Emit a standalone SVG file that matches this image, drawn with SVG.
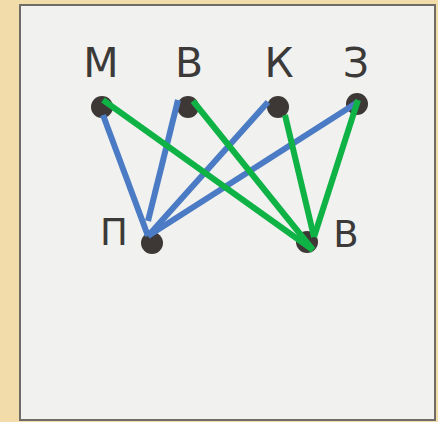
<svg xmlns="http://www.w3.org/2000/svg" width="438" height="422" viewBox="0 0 438 422">
<style>
.lbl{font-family:"DejaVu Sans","Noto Sans",sans-serif;fill:#3c3a38;text-anchor:middle}
.top{font-size:41px}
.bot{font-size:37px}
.dot{fill:#3d3836}
.b{stroke:#4a7bc4;stroke-width:6;stroke-linecap:butt;fill:none}
.g{stroke:#0fb245;stroke-width:6;stroke-linecap:butt;fill:none}
</style>
<rect x="0" y="0" width="438" height="422" fill="#f2dcaa"/>
<rect x="20" y="5" width="415" height="415" fill="#f1f1ef" stroke="#6e6c64" stroke-width="2"/>
<g id="node-M"><circle class="dot" cx="102" cy="107" r="11"/><text class="lbl top" x="101" y="77">М</text></g>
<g id="node-V1"><circle class="dot" cx="188" cy="107" r="11"/><text class="lbl top" x="189" y="77">В</text></g>
<g id="node-K"><circle class="dot" cx="278" cy="107" r="11"/><text class="lbl top" x="279" y="77">К</text></g>
<g id="node-Z"><circle class="dot" cx="357" cy="104" r="11"/><text class="lbl top" x="356" y="77">З</text></g>
<g id="node-P"><circle class="dot" cx="152" cy="243" r="11"/><text class="lbl bot" x="114" y="245">П</text></g>
<g id="node-V2"><circle class="dot" cx="307" cy="242" r="11"/><text class="lbl bot" x="346" y="247">В</text></g>
<g id="connectors">
<line class="b" x1="103" y1="115" x2="148" y2="236"/>
<line class="b" x1="178" y1="100" x2="148" y2="221"/>
<line class="b" x1="268" y1="102" x2="148" y2="236"/>
<line class="b" x1="358" y1="102" x2="148" y2="236"/>
<line class="g" x1="103" y1="100" x2="313" y2="250"/>
<line class="g" x1="193" y1="101" x2="313" y2="250"/>
<line class="g" x1="285" y1="115" x2="314" y2="237"/>
<line class="g" x1="358" y1="100" x2="314" y2="237"/>
</g>
</svg>
